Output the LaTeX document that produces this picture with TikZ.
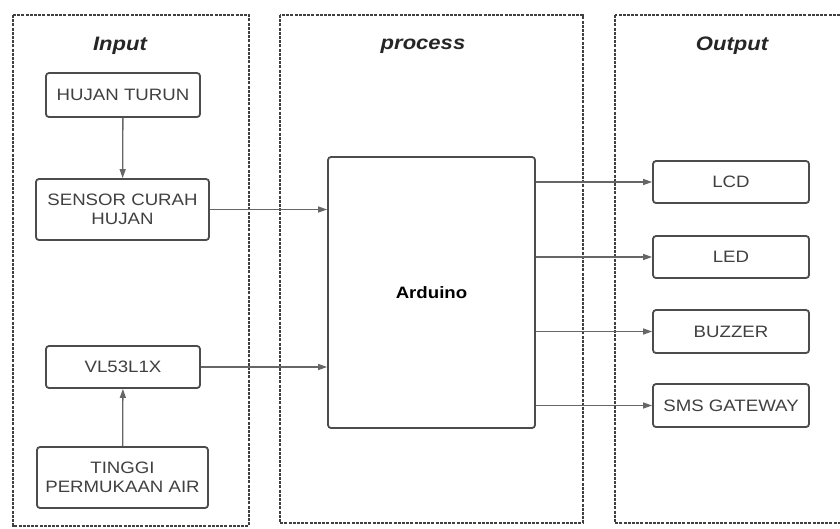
\documentclass[tikz,border=0pt]{standalone}
\usepackage{fontspec}
\setmainfont[FakeStretch=1.13]{Liberation Sans}
\usetikzlibrary{positioning,arrows.meta}

\begin{document}
\begin{tikzpicture}[x=1pt,y=-1pt,
  panel/.style={draw=black!75,line width=1.6pt,dash pattern=on 3pt off 1.2pt},
  title/.style={font=\fontsize{19.5}{22}\selectfont\bfseries\itshape,text=black!85},
  blok/.style={draw=black!70,line width=1.8pt,rounded corners=3pt,align=center,
    font=\fontsize{16.5}{19}\selectfont,text=black!75,inner sep=2pt},
  panah/.style={draw=black!60,line width=1.3pt,-{Triangle[length=9pt,width=6pt]}}]
\useasboundingbox (0,0) rectangle (840,528);
\clip (0,0) rectangle (840,528);
% kolom
\draw[panel] (13,15) rectangle (249,526);
\draw[panel] (280,15) rectangle (583,523);
\draw[panel] (615,15) rectangle (860,523);
\node[title] (tInput) at (120,46) {Input};
\node[title] (tProcess) at (423,46) {process};
\node[title] (tOutput) at (732,46) {Output};
% input
\node[blok,minimum width=154pt,minimum height=44pt] (hujan) at (123,95) {HUJAN TURUN};
\node[blok,minimum width=173pt,minimum height=61pt] (sensor) at (122.5,209.5) {SENSOR CURAH\\HUJAN};
\node[blok,minimum width=154pt,minimum height=42pt] (vl) at (123,367) {VL53L1X};
\node[blok,minimum width=171pt,minimum height=61pt] (tinggi) at (122.5,477.5) {TINGGI\\PERMUKAAN AIR};
% process
\node[blok,minimum width=207pt,minimum height=271pt,text=black,
  font=\fontsize{16.5}{19}\selectfont\bfseries] (arduino) at (431.5,292.5) {Arduino};
% output
\node[blok,minimum width=156pt,minimum height=42pt] (lcd) at (731,182) {LCD};
\node[blok,minimum width=156pt,minimum height=42pt] (led) at (731,257) {LED};
\node[blok,minimum width=156pt,minimum height=43pt] (buzzer) at (731,331.5) {BUZZER};
\node[blok,minimum width=156pt,minimum height=43pt] (sms) at (731,405.5) {SMS GATEWAY};
% panah
\draw[panah] (hujan) -- (sensor);
\draw[panah] (tinggi) -- (vl);
\draw[panah] (sensor.east) -- (sensor.east -| arduino.west);
\draw[panah] (vl.east) -- (vl.east -| arduino.west);
\draw[panah] (lcd.west -| arduino.east) -- (lcd.west);
\draw[panah] (led.west -| arduino.east) -- (led.west);
\draw[panah] (buzzer.west -| arduino.east) -- (buzzer.west);
\draw[panah] (sms.west -| arduino.east) -- (sms.west);
\end{tikzpicture}
\end{document}
